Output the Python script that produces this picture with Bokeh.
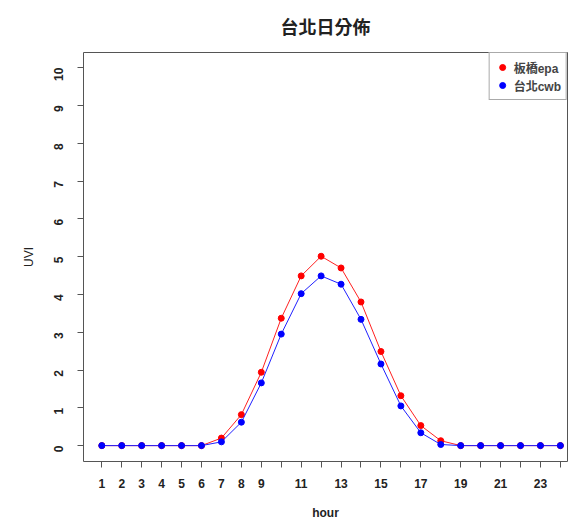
from bokeh.plotting import figure
from bokeh.models import Range1d, FixedTicker, Legend, LegendItem
from bokeh.embed import file_html
from bokeh.resources import INLINE
import math

hours = list(range(1, 25))
epa = [0, 0, 0, 0, 0, 0, 0.20, 0.82, 1.94, 3.37, 4.49, 5.01, 4.70, 3.80, 2.49, 1.32, 0.53, 0.13, 0, 0, 0, 0, 0, 0]
cwb = [0, 0, 0, 0, 0, 0, 0.10, 0.62, 1.66, 2.95, 4.02, 4.49, 4.27, 3.34, 2.16, 1.05, 0.34, 0.03, 0, 0, 0, 0, 0, 0]
x_ticks = list(range(1, 25))
x_labels = {h: (str(h) if (h <= 9 or h % 2 == 1) else "") for h in x_ticks}
y_ticks = list(range(0, 11))
series_names = ["板橋epa", "台北cwb"]
title_text = "台北日分佈"

FONT = "Liberation Sans, Noto Sans CJK TC"
X0, X1 = 0.082, 24.357
Y0, Y1 = -0.42, 10.4

p = figure(width=569, height=522, output_backend="svg", toolbar_location=None,
           x_range=Range1d(X0, X1), y_range=Range1d(Y0, Y1),
           min_border_left=83, min_border_right=2, min_border_top=52, min_border_bottom=60)

p.title.text = title_text
p.title.align = "center"
p.title.text_font = FONT
p.title.text_font_size = "18px"
p.title.text_font_style = "bold"
p.title.text_color = "#222222"
p.title.standoff = 30

p.xgrid.visible = False
p.ygrid.visible = False
p.outline_line_color = "#555555"
p.outline_line_width = 1
p.background_fill_color = "white"
p.border_fill_color = "white"

for ax in (p.xaxis[0], p.yaxis[0]):
    ax.axis_line_color = None
    ax.major_tick_line_color = "#555555"
    ax.major_tick_out = 6
    ax.major_tick_in = 0
    ax.minor_tick_line_color = None
    ax.major_label_text_font = FONT
    ax.major_label_text_font_size = "12px"
    ax.major_label_text_font_style = "bold"
    ax.major_label_text_color = "#222222"
    ax.axis_label_text_font = FONT
    ax.axis_label_text_font_size = "12px"
    ax.axis_label_text_color = "#222222"

p.xaxis.ticker = FixedTicker(ticks=x_ticks)
p.xaxis.major_label_overrides = x_labels
p.xaxis.major_label_standoff = 11
p.xaxis.axis_label = "hour"
p.xaxis.axis_label_text_font_style = "bold"
p.xaxis.axis_label_standoff = 15

p.yaxis.ticker = FixedTicker(ticks=y_ticks)
p.yaxis.major_label_orientation = math.pi / 2
p.yaxis.major_label_standoff = 19
p.yaxis.axis_label = "UVI"
p.yaxis.axis_label_text_font_style = "normal"
p.yaxis.axis_label_standoff = 11

p.line(hours, epa, line_color="#ff2020", line_width=1)
r_epa = p.scatter(hours, epa, size=6, fill_color="red", line_color="red")
p.line(hours, cwb, line_color="#2020ff", line_width=1)
r_cwb = p.scatter(hours, cwb, size=6, fill_color="blue", line_color="blue")

legend = Legend(items=[LegendItem(label=series_names[0], renderers=[r_epa]),
                       LegendItem(label=series_names[1], renderers=[r_cwb])],
                location="top_right", margin=0, padding=5, spacing=0,
                glyph_width=15, glyph_height=18, label_height=18, label_standoff=4,
                label_text_font=FONT, label_text_font_size="12px", label_text_font_style="bold",
                border_line_color="#555555", background_fill_color="white", background_fill_alpha=1)
p.add_layout(legend)

open("out.html", "w").write(file_html(p, INLINE))
